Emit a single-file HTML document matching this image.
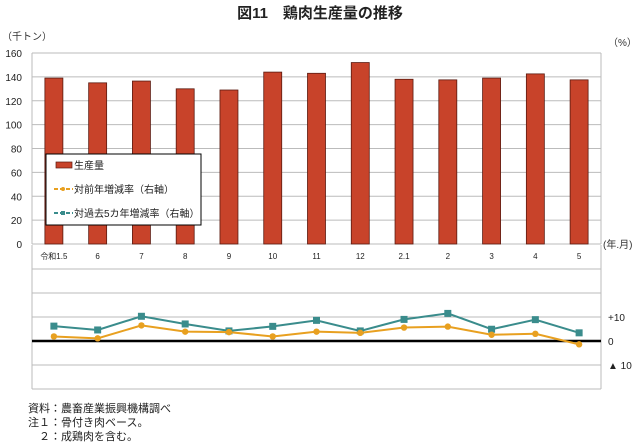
<!DOCTYPE html>
<html><head><meta charset="utf-8"><style>
body{margin:0;background:#fff;width:640px;height:442px;overflow:hidden;font-family:"Liberation Sans","Noto Sans CJK JP",sans-serif;}
svg text{font-family:"Liberation Sans","Noto Sans CJK JP",sans-serif;}
</style></head><body>
<svg id="c" width="640" height="442" viewBox="0 0 640 442">
<text x="320" y="18" text-anchor="middle" font-size="15" font-weight="bold" fill="#222">図11　鶏肉生産量の推移</text>
<text x="2" y="40" font-size="10" fill="#333">（千トン）</text>
<text x="608" y="46" font-size="10" fill="#333">（%）</text>
<text x="603" y="248" font-size="10" fill="#333">(年.月)</text>
<g id="grid"></g><g id="bars"></g><g id="lines"></g>
<g>
<rect x="46" y="154" width="155" height="71" fill="#fff" stroke="#000" stroke-width="1"/>
<rect x="56" y="162" width="16" height="6" fill="#c8432a" stroke="#5a1a10" stroke-width="0.7"/>
<text x="74" y="169" font-size="10" fill="#222">生産量</text>
<line x1="54" y1="189" x2="73" y2="189" stroke="#e8a020" stroke-width="2" stroke-dasharray="4,2"/>
<circle cx="63" cy="189" r="2" fill="#e8a020"/>
<text x="74" y="193" font-size="10" fill="#222">対前年増減率（右軸）</text>
<line x1="54" y1="213" x2="73" y2="213" stroke="#3a8c8c" stroke-width="2" stroke-dasharray="4,2"/>
<rect x="61" y="211" width="4" height="4" fill="#3a8c8c"/>
<text x="74" y="217" font-size="10" fill="#222">対過去5カ年増減率（右軸）</text>
</g>
<text x="28" y="412" font-size="11" fill="#222">資料：農畜産業振興機構調べ</text>
<text x="28" y="426" font-size="11" fill="#222">注１：骨付き肉ベース。</text>
<text x="28" y="440" font-size="11" fill="#222">　２：成鶏肉を含む。</text>
</svg>
<script>
const categories=["令和1.5","6","7","8","9","10","11","12","2.1","2","3","4","5"];
const production=[139,135,136.5,130,129,144,143,152,138,137.5,139,142.5,137.5];
const yoyRate=[1.9,1.1,6.5,3.9,3.7,1.9,3.9,3.4,5.6,6.0,2.6,3.0,-1.4];
const fiveYearRate=[6.2,4.6,10.3,7.1,4.2,6.1,8.6,4.2,9.0,11.5,4.9,8.9,3.4];
const leftTicks=[0,20,40,60,80,100,120,140,160];
const rightTicks=[{v:10,l:"+10"},{v:0,l:"0"},{v:-10,l:"▲ 10"}];
const NS="http://www.w3.org/2000/svg";
const X0=32,X1=601,Y0=244,Y1=53,LT=269,LB=389;
const step=(X1-X0)/categories.length;
const xc=i=>X0+step*(i+0.5);
const yL=v=>Y0-(v/160)*(Y0-Y1);
const yR=v=>341-v*2.4;
function mk(tag,attrs,parent){const e=document.createElementNS(NS,tag);for(const k in attrs)e.setAttribute(k,attrs[k]);parent.appendChild(e);return e;}
const grid=document.getElementById('grid'),bars=document.getElementById('bars'),lines=document.getElementById('lines');
leftTicks.forEach(v=>{
 const l=mk('line',{x1:X0,x2:X1,y1:yL(v),y2:yL(v),stroke:'#bbb','stroke-width':1},grid);
 
 
 const t=mk('text',{x:22,y:yL(v)+4,'text-anchor':'end','font-size':10,fill:'#222'},grid);t.textContent=v;
 
 
});
[LT,293,317,365,LB].forEach(y=>{mk('line',{x1:X0,x2:X1,y1:y,y2:y,stroke:'#bbb','stroke-width':1},grid);});
mk('line',{x1:X0,x2:X0,y1:Y1,y2:Y0,stroke:'#bbb'},grid);
mk('line',{x1:X1,x2:X1,y1:Y1,y2:Y0,stroke:'#bbb'},grid);
mk('line',{x1:X0,x2:X0,y1:LT-24,y2:LB,stroke:'#bbb'},grid);
mk('line',{x1:X1,x2:X1,y1:LT-24,y2:LB,stroke:'#bbb'},grid);
rightTicks.forEach(r=>{const t=mk('text',{x:608,y:yR(r.v)+4,'font-size':10,fill:'#222'},grid);t.textContent=r.l;
 
 });
mk('line',{x1:X0,x2:X1,y1:341,y2:341,stroke:'#000','stroke-width':2.5},grid);
categories.forEach((c,i)=>{
 const r=mk('rect',{x:xc(i)-9,y:yL(production[i]),width:18,height:Y0-yL(production[i]),fill:'#c8432a',stroke:'#5a1a10','stroke-width':0.8},bars);
 
 
 const t=mk('text',{x:xc(i),y:259,'text-anchor':'middle','font-size':8,fill:'#222'},bars);t.textContent=c;
 
 
});
function series(vals,color,shape,name){
 const p=mk('polyline',{points:vals.map((v,i)=>xc(i)+','+yR(v)).join(' '),fill:'none',stroke:color,'stroke-width':2},lines);
 
 
 vals.forEach((v,i)=>{let m;
  if(shape==='c')m=mk('circle',{cx:xc(i),cy:yR(v),r:3.2,fill:color},lines);
  else m=mk('rect',{x:xc(i)-3.5,y:yR(v)-3.5,width:7,height:7,fill:color},lines);
  
  });
}
series(fiveYearRate,'#3a8c8c','s','five-year-rate');
series(yoyRate,'#e8a020','c','yoy-rate');
</script>
</body></html>
